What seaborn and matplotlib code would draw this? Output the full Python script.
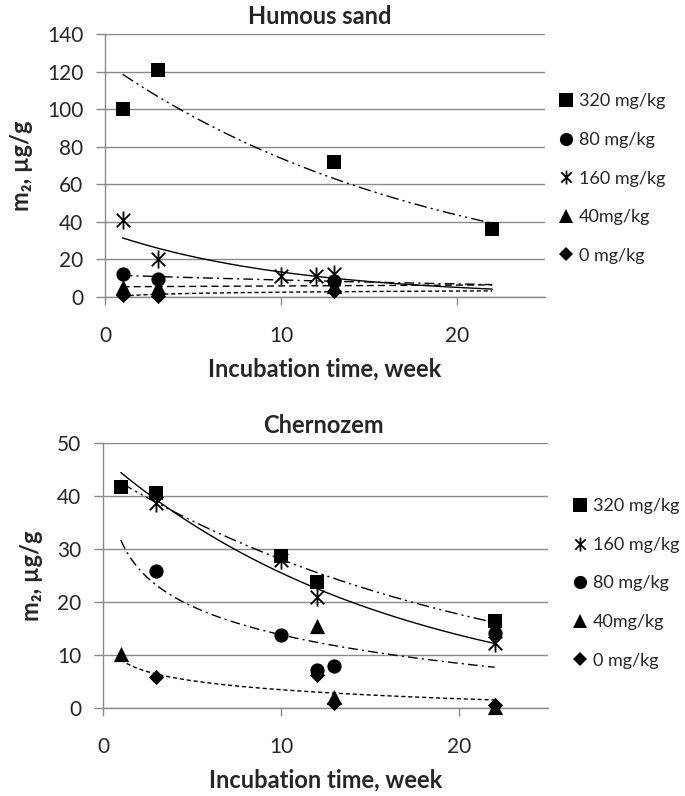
import numpy as np
import matplotlib
matplotlib.use("Agg")
import matplotlib.pyplot as plt
import seaborn as sns
from matplotlib.lines import Line2D
from matplotlib.path import Path

sns.set_theme(style="white")
plt.rcParams['font.family'] = ['Lato', 'DejaVu Sans']

# Humous sand data (week, m2)
hs_320_x = [1, 3, 13, 22]
hs_320_y = [100, 121, 72, 36]
hs_160_x = [1, 3, 10, 12, 13]
hs_160_y = [41, 20, 11, 11, 12]
hs_80_x = [1, 3, 13]
hs_80_y = [12.5, 9.8, 8.5]
hs_40_x = [1, 3, 13]
hs_40_y = [5.5, 5.5, 6.0]
hs_0_x = [1, 3, 13]
hs_0_y = [1.0, 0.5, 3.2]

# Chernozem data
ch_320_x = [1, 3, 10, 12, 22]
ch_320_y = [41.6, 40.6, 28.7, 23.8, 16.5]
ch_160_x = [3, 10, 12, 22]
ch_160_y = [38.6, 27.9, 20.9, 12.2]
ch_80_x = [3, 10, 12, 13, 22]
ch_80_y = [25.8, 13.7, 7.2, 7.9, 14.2]
ch_40_x = [1, 12, 13, 22]
ch_40_y = [10.2, 15.4, 2.0, 0.2]
ch_0_x = [3, 12, 13, 22]
ch_0_y = [5.9, 6.2, 1.0, 0.6]

GRID = '#8a8a8a'

# excel style "x with a vertical bar" marker
star = Path([(0, -1), (0, 1), (-0.75, -0.75), (0.75, 0.75), (-0.75, 0.75), (0.75, -0.75)],
            [Path.MOVETO, Path.LINETO, Path.MOVETO, Path.LINETO, Path.MOVETO, Path.LINETO])

styles = {
    '320': dict(marker='s', s=115),
    '160': dict(marker=star, s=170),
    '80': dict(marker='o', s=105),
    '40': dict(marker='^', s=120),
    '0': dict(marker='D', s=60),
}
dashes = {
    '320': (0, (9, 3, 1.5, 3, 1.5, 3)),
    '160': '-',
    '80': (0, (7, 3, 1.5, 3)),
    '40': (0, (5, 3)),
    '0': (0, (3, 2)),
}
labels = {'320': '320 mg/kg', '160': '160 mg/kg', '80': '80 mg/kg',
          '40': '40mg/kg', '0': '0 mg/kg'}


def trend(x, y, kind):
    # excel-like trendline over weeks 1..22
    x = np.asarray(x, float)
    y = np.asarray(y, float)
    xs = np.linspace(1, 22, 200)
    if kind == 'exp':
        b, a = np.polyfit(x, np.log(y), 1)
        return xs, np.exp(a + b * xs)
    b, a = np.polyfit(np.log(x), y, 1)
    return xs, a + b * np.log(xs)


def draw(ax, series, order, legend_anchor):
    for key, x, y, kind in series:
        if kind is not None:
            tx, ty = trend(x, y, kind)
            sns.lineplot(x=tx, y=ty, ax=ax, color='black', lw=1.0,
                         linestyle=dashes[key])
    for key, x, y, kind in series:
        st = styles[key]
        if key == '160':
            sns.scatterplot(x=x, y=y, ax=ax, marker=st['marker'], s=st['s'],
                            color='black', edgecolor='black', linewidth=1.3,
                            clip_on=False, zorder=5)
        else:
            sns.scatterplot(x=x, y=y, ax=ax, marker=st['marker'], s=st['s'],
                            color='black', edgecolor='black', linewidth=0,
                            clip_on=False, zorder=5)
    handles = []
    for key in order:
        st = styles[key]
        ms = {'320': 9.5, '160': 10, '80': 9.5, '40': 10, '0': 7}[key]
        handles.append(Line2D([], [], ls='none', marker=st['marker'], color='black',
                              markeredgecolor='black', markersize=ms,
                              markeredgewidth=1.3 if key == '160' else 0))
    ax.legend(handles, [labels[k] for k in order], loc='center left',
              bbox_to_anchor=legend_anchor, frameon=False, fontsize=13,
              handlelength=0.8, handletextpad=0.3, labelspacing=1.25,
              borderaxespad=0)

    ax.set_xlim(0, 25)
    ax.set_xticks([0, 10, 20])
    ax.grid(axis='y', color=GRID, lw=1.0)
    ax.grid(axis='x', visible=False)
    for side in ['top', 'right']:
        ax.spines[side].set_visible(False)
    for side in ['left', 'bottom']:
        ax.spines[side].set_color(GRID)
        ax.spines[side].set_linewidth(1.0)
    ax.tick_params(axis='y', direction='out', length=6.5, width=1.0, color=GRID,
                   left=True, labelsize=15, pad=9)
    ax.tick_params(axis='x', direction='out', length=6, width=1.0, color=GRID,
                   bottom=True, labelsize=15, pad=15)
    ax.set_xlabel('Incubation time, week', fontsize=17, fontweight='bold', labelpad=8)
    ax.set_ylabel('m\u2082, \u00b5g/g', fontsize=17, fontweight='bold', labelpad=10)


fig = plt.figure(figsize=(6.85, 7.96), dpi=100)
ax1 = fig.add_axes([0.1533, 0.6269, 0.6423, 0.3304])
ax2 = fig.add_axes([0.1504, 0.1106, 0.6496, 0.3329])

draw(ax1, [('320', hs_320_x, hs_320_y, 'exp'),
           ('160', hs_160_x, hs_160_y, 'exp'),
           ('0', hs_0_x, hs_0_y, 'log'),
           ('40', hs_40_x, hs_40_y, 'exp'),
           ('80', hs_80_x, hs_80_y, 'exp')],
     ['320', '80', '160', '40', '0'], (1.015, 0.45))
ax1.set_ylim(0, 140)
ax1.set_yticks(range(0, 141, 20))

draw(ax2, [('320', ch_320_x, ch_320_y, 'exp'),
           ('160', ch_160_x, ch_160_y, 'exp'),
           ('0', ch_0_x, ch_0_y, 'log'),
           ('40', ch_40_x, ch_40_y, None),
           ('80', ch_80_x, ch_80_y, 'log')],
     ['320', '160', '80', '40', '0'], (1.04, 0.47))
ax2.set_ylim(0, 50)
ax2.set_yticks(range(0, 51, 10))

fig.text(0.467, 0.979, 'Humous sand', ha='center', va='center',
         fontsize=17, fontweight='bold')
fig.text(0.472, 0.466, 'Chernozem', ha='center', va='center',
         fontsize=17, fontweight='bold')

fig.savefig('out.png', dpi=100)
